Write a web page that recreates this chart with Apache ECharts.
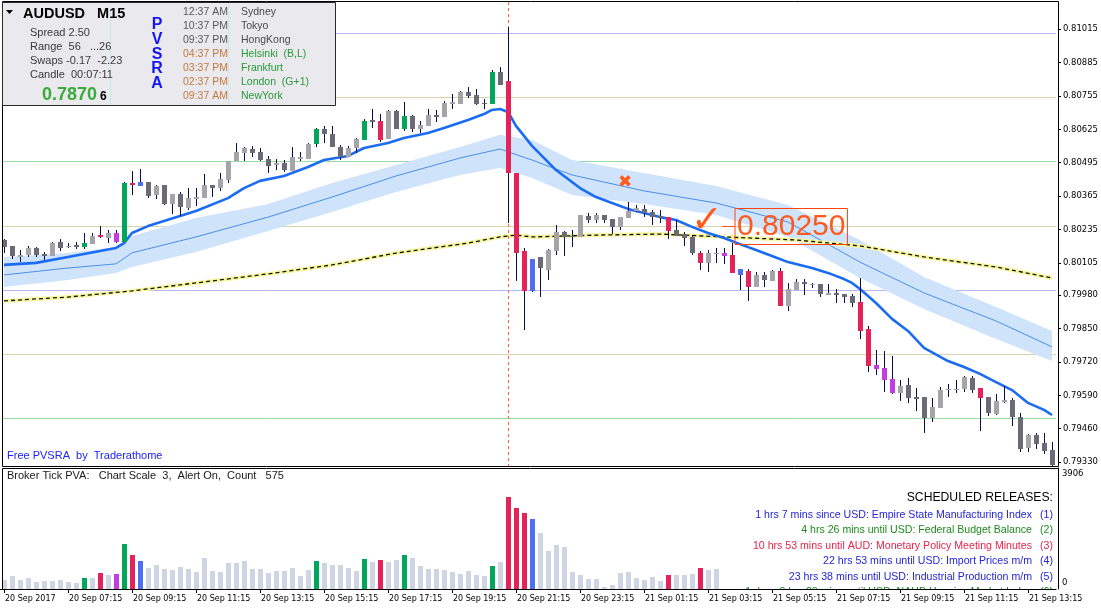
<!DOCTYPE html>
<html><head><meta charset="utf-8">
<script src="https://cdn.jsdelivr.net/npm/echarts@6/dist/echarts.min.js"></script>
<style>html,body{margin:0;padding:0;background:#fff;overflow:hidden}#c{width:1101px;height:611px}</style>
</head><body><div id="c"></div>
<script>
// ---------- DATA ----------
const xTickLabels = ['20 Sep 2017','20 Sep 07:15','20 Sep 09:15','20 Sep 11:15','20 Sep 13:15','20 Sep 15:15','20 Sep 17:15','20 Sep 19:15','20 Sep 21:15','20 Sep 23:15','21 Sep 01:15','21 Sep 03:15','21 Sep 05:15','21 Sep 07:15','21 Sep 09:15','21 Sep 11:15','21 Sep 13:15'];
const yTickValues = [0.81015,0.80885,0.80755,0.80625,0.80495,0.80365,0.80235,0.80105,0.79980,0.79850,0.79720,0.79590,0.79460,0.79330];
const volTickValues = [0, 3906];

const opens = [
0.80194,0.80171,0.80129,0.80136,0.80163,0.80140,0.80132,0.80185,0.80167,0.80173,
0.80168,0.80178,0.80213,0.80202,0.80220,0.80187,0.80417,0.80405,0.80420,0.80370,
0.80408,0.80334,0.80373,0.80319,0.80355,0.80357,0.80408,0.80395,0.80427,0.80500,
0.80534,0.80548,0.80536,0.80510,0.80485,0.80495,0.80464,0.80509,0.80509,0.80568,
0.80626,0.80606,0.80555,0.80518,0.80551,0.80583,0.80661,0.80657,0.80587,0.80697,
0.80626,0.80676,0.80626,0.80639,0.80680,0.80671,0.80723,0.80723,0.80769,0.80758,
0.80726,0.80723,0.80849,0.80813,0.80456,0.80151,0.79997,0.80127,0.80077,0.80152,
0.80225,0.80211,0.80207,0.80287,0.80272,0.80291,0.80276,0.80246,0.80281,0.80308,
0.80313,0.80303,0.80287,0.80285,0.80233,0.80216,0.80204,0.80145,0.80106,0.80142,
0.80145,0.80136,0.80058,0.80075,0.80012,0.80058,0.80036,0.80075,0.79937,0.79999,
0.80032,0.80022,0.80024,0.79981,0.79989,0.79984,0.79976,0.79954,0.79848,0.79708,
0.79697,0.79653,0.79600,0.79630,0.79584,0.79584,0.79500,0.79542,0.79612,0.79612,
0.79614,0.79658,0.79619,0.79584,0.79517,0.79564,0.79571,0.79507,0.79383,0.79435,
0.79405,0.79377];
const closes = [
0.80168,0.80132,0.80137,0.80163,0.80136,0.80132,0.80181,0.80164,0.80171,0.80168,
0.80181,0.80210,0.80206,0.80220,0.80187,0.80415,0.80409,0.80421,0.80365,0.80404,
0.80334,0.80373,0.80324,0.80357,0.80361,0.80408,0.80398,0.80431,0.80500,0.80536,
0.80552,0.80534,0.80505,0.80482,0.80495,0.80466,0.80517,0.80517,0.80568,0.80626,
0.80605,0.80555,0.80518,0.80551,0.80587,0.80657,0.80654,0.80583,0.80697,0.80626,
0.80676,0.80626,0.80643,0.80680,0.80673,0.80728,0.80730,0.80769,0.80756,0.80723,
0.80723,0.80849,0.80797,0.80456,0.80145,0.79996,0.80119,0.80086,0.80155,0.80225,
0.80207,0.80207,0.80291,0.80272,0.80291,0.80272,0.80246,0.80285,0.80307,0.80320,
0.80298,0.80285,0.80278,0.80230,0.80211,0.80203,0.80145,0.80103,0.80142,0.80145,
0.80133,0.80067,0.80080,0.80012,0.80058,0.80038,0.80075,0.79937,0.80002,0.80032,
0.80022,0.80024,0.79983,0.79989,0.79981,0.79974,0.79950,0.79841,0.79704,0.79692,
0.79649,0.79600,0.79627,0.79578,0.79577,0.79500,0.79546,0.79610,0.79614,0.79614,
0.79662,0.79610,0.79581,0.79522,0.79568,0.79571,0.79507,0.79381,0.79435,0.79400,
0.79374,0.79318];
const lows = [
0.80145,0.80119,0.80110,0.80129,0.80129,0.80116,0.80132,0.80153,0.80162,0.80158,
0.80158,0.80178,0.80200,0.80184,0.80184,0.80185,0.80369,0.80405,0.80356,0.80354,
0.80330,0.80295,0.80289,0.80311,0.80326,0.80357,0.80363,0.80386,0.80415,0.80500,
0.80500,0.80518,0.80503,0.80456,0.80466,0.80460,0.80464,0.80501,0.80508,0.80557,
0.80570,0.80555,0.80505,0.80516,0.80534,0.80583,0.80628,0.80577,0.80587,0.80626,
0.80618,0.80616,0.80612,0.80639,0.80654,0.80671,0.80704,0.80723,0.80745,0.80719,
0.80704,0.80723,0.80797,0.80259,0.80034,0.79844,0.79993,0.79973,0.80038,0.80136,
0.80132,0.80168,0.80207,0.80261,0.80261,0.80259,0.80217,0.80233,0.80281,0.80304,
0.80282,0.80252,0.80261,0.80197,0.80210,0.80171,0.80134,0.80077,0.80071,0.80103,
0.80101,0.80067,0.79999,0.79958,0.80010,0.80010,0.80034,0.79937,0.79919,0.79999,
0.79980,0.80006,0.79971,0.79981,0.79950,0.79948,0.79935,0.79808,0.79682,0.79669,
0.79604,0.79595,0.79569,0.79559,0.79530,0.79442,0.79487,0.79539,0.79582,0.79600,
0.79604,0.79600,0.79452,0.79509,0.79513,0.79561,0.79472,0.79368,0.79368,0.79380,
0.79361,0.79300];
const highs = [
0.80197,0.80171,0.80155,0.80171,0.80168,0.80149,0.80185,0.80198,0.80184,0.80188,
0.80220,0.80220,0.80249,0.80233,0.80233,0.80421,0.80464,0.80469,0.80420,0.80407,
0.80408,0.80373,0.80382,0.80396,0.80396,0.80451,0.80409,0.80456,0.80500,0.80570,
0.80555,0.80560,0.80552,0.80521,0.80508,0.80505,0.80556,0.80538,0.80571,0.80631,
0.80639,0.80636,0.80564,0.80561,0.80590,0.80665,0.80704,0.80686,0.80700,0.80700,
0.80732,0.80680,0.80657,0.80704,0.80699,0.80735,0.80762,0.80774,0.80789,0.80780,
0.80741,0.80857,0.80867,0.81023,0.80456,0.80162,0.80119,0.80127,0.80159,0.80252,
0.80230,0.80233,0.80291,0.80298,0.80300,0.80291,0.80276,0.80285,0.80341,0.80330,
0.80330,0.80311,0.80311,0.80285,0.80272,0.80226,0.80213,0.80152,0.80155,0.80164,
0.80164,0.80184,0.80080,0.80080,0.80071,0.80071,0.80077,0.80084,0.80025,0.80041,
0.80041,0.80025,0.80024,0.80023,0.80002,0.79984,0.79984,0.80045,0.79859,0.79766,
0.79762,0.79743,0.79649,0.79658,0.79617,0.79584,0.79578,0.79623,0.79634,0.79649,
0.79666,0.79665,0.79619,0.79584,0.79595,0.79627,0.79578,0.79520,0.79438,0.79442,
0.79444,0.79409];

// PVSRA vector candles (bar indices)
const climaxBull = [10,15,39,45,50,61];
const climaxBear = [12,16,47,63,64,65,83,87,91,93,97,107,108,122];
const risingBull = [17,66,92];
const risingBear = [14,90,109,110,111];

// Broker tick volume (drawn bars only)
const volumes = [
300,429,300,354,236,268,268,300,236,182,
365,365,526,461,494,1459,1105,912,687,783,
654,622,719,654,558,1009,590,558,848,848,
912,654,654,526,590,590,687,429,622,912,
848,783,783,687,590,976,880,944,880,944,
1105,1009,751,654,654,622,558,494,590,461,
429,751,880,2972,2618,2457,2256,1796,1238,1435,
1347,548,460,318,318,66,131,515,548,350,
285,383,252,449,449,449,482,679,613,646];

// Indicator lines, read at sample bars [bar, price]
const emaPoints = [[0,0.80097],[4,0.80105],[8,0.80128],[12,0.80151],[14,0.80163],[15,0.80182],[16,0.80221],[18,0.80248],[20,0.80268],[24,0.80307],[28,0.80357],[30,0.80396],[32,0.80424],[35,0.80443],[38,0.80478],[40,0.80505],[43,0.80521],[45,0.80552],[48,0.80571],[50,0.80591],[53,0.80610],[55,0.80630],[58,0.80661],[60,0.80684],[61,0.80700],[62,0.80704],[63,0.80692],[64,0.80638],[66,0.80560],[69,0.80466],[72,0.80396],[74,0.80361],[76,0.80338],[78,0.80315],[80,0.80299],[82,0.80283],[84,0.80272],[86,0.80245],[88,0.80221],[90,0.80202],[92,0.80178],[94,0.80155],[96,0.80132],[98,0.80108],[101,0.80085],[103,0.80066],[105,0.80042],[106,0.80027],[107,0.80003],[109,0.79949],[111,0.79887],[113,0.79840],[115,0.79774],[118,0.79723],[120,0.79700],[122,0.79673],[124,0.79641],[126,0.79610],[128,0.79560],[130,0.79533],[131,0.79513]];
const bandUpper = [[0,0.80128],[8,0.80143],[14,0.80167],[16,0.80210],[24,0.80280],[33,0.80334],[41,0.80416],[49,0.80486],[57,0.80556],[62,0.80603],[66,0.80583],[71,0.80505],[80,0.80455],[89,0.80404],[98,0.80330],[107,0.80194],[115,0.80050],[124,0.79933],[131,0.79840]];
const bandMiddle = [[0,0.80058],[8,0.80085],[14,0.80101],[16,0.80144],[24,0.80206],[33,0.80283],[41,0.80361],[49,0.80443],[57,0.80513],[62,0.80548],[66,0.80505],[71,0.80447],[80,0.80385],[89,0.80338],[98,0.80264],[107,0.80108],[115,0.79988],[124,0.79879],[131,0.79778]];
const bandLower = [[0,0.80011],[8,0.80038],[14,0.80066],[16,0.80089],[24,0.80147],[33,0.80229],[41,0.80303],[49,0.80381],[57,0.80447],[62,0.80474],[66,0.80435],[71,0.80369],[80,0.80334],[89,0.80291],[98,0.80206],[107,0.80046],[115,0.79925],[124,0.79809],[131,0.79723]];
const slowMaPoints = [[0,0.79957],[8,0.79972],[16,0.79996],[24,0.80027],[33,0.80062],[41,0.80097],[49,0.80143],[58,0.80182],[62,0.80206],[64,0.80213],[66,0.80206],[74,0.80213],[82,0.80217],[90,0.80206],[99,0.80194],[107,0.80171],[115,0.80128],[124,0.80089],[131,0.80046]];

// Horizontal price levels
const levelPrices = [0.8100,0.8075,0.8050,0.8025,0.8000,0.7975,0.7950];
const levelKinds  = ['00','25','50','25','00','25','50'];
const eventBar = 63;

// Annotations
const markBars   = [78, 88];
const markPrices = [0.80416, 0.80264];
const markGlyphs = ['\u2716', '\u2713'];
const priceLabelBar = 91;
const priceLabelValue = 0.80250;

// Info panel text
const sessionTimes  = ['12:37 AM','10:37 PM','09:37 PM','04:37 PM','03:37 PM','02:37 PM','09:37 AM'];
const sessionCities = ['Sydney','Tokyo','HongKong','Helsinki  (B,L)','Frankfurt','London  (G+1)','NewYork'];
const infoLines = ['Spread 2.50','Range  56   ...26','Swaps -0.17  -2.23','Candle  00:07:11'];
const releases = [
  ['1 hrs 7 mins since USD: Empire State Manufacturing Index','(1)','blue'],
  ['4 hrs 26 mins until USD: Federal Budget Balance','(2)','green'],
  ['10 hrs 53 mins until AUD: Monetary Policy Meeting Minutes','(3)','red'],
  ['22 hrs 53 mins until USD: Import Prices m/m','(4)','blue'],
  ['23 hrs 38 mins until USD: Industrial Production m/m','(5)','blue'],
  ['1 days 0 hrs 23 mins until USD: NAHB Housing Market Index','(6)','green']
];

// ---------- STYLE ----------
const FONT_UI = '"Liberation Sans", Arial, sans-serif';
const FONT_AX = '"DejaVu Sans Condensed", "DejaVu Sans", sans-serif';
const COL = {up:'#a4a4a9', down:'#6b6b77', wick:'#0b0b44', g:'#00a65c', r:'#e2245a', b:'#4c6ff6', m:'#c23de2', vol:'#ccd5e1'};
const LEVEL_COL = {'00':'#b6b6f2','25':'#dcd1ae','50':'#95dca5'};
const REL_COL = {blue:'#2424dc', green:'#1e8c1e', red:'#e8244c'};
const ORANGE = '#ff5a1e';

function pvsraColor(i) {
  if (climaxBull.includes(i)) return COL.g;
  if (climaxBear.includes(i)) return COL.r;
  if (risingBull.includes(i)) return COL.b;
  if (risingBear.includes(i)) return COL.m;
  return null;
}

// categories (15-minute bars from 20 Sep 2017 05:15)
const categories = [];
for (let k = 0; k < opens.length; k++) {
  const d = new Date(Date.UTC(2017, 8, 20, 5, 15) + k * 900000);
  const p = n => String(n).padStart(2, '0');
  categories.push(d.getUTCFullYear() + '.' + p(d.getUTCMonth()+1) + '.' + p(d.getUTCDate()) + ' ' + p(d.getUTCHours()) + ':' + p(d.getUTCMinutes()));
}

const chart = echarts.init(document.getElementById('c'), null, {renderer:'canvas'});

const candleSeries = {
  type:'custom', xAxisIndex:0, yAxisIndex:0, z:6, clip:true,
  data: opens.map((o,i)=>[i,o,closes[i],lows[i],highs[i]]),
  encode:{x:0, y:[1,2,3,4]},
  renderItem:(params, api)=>{
    const i=api.value(0), o=api.value(1), c=api.value(2), l=api.value(3), h=api.value(4);
    const pO=api.coord([i,o]), pC=api.coord([i,c]), pH=api.coord([i,h]), pL=api.coord([i,l]);
    const x=Math.round(pO[0]);
    const top=Math.round(Math.min(pO[1],pC[1])), bot=Math.round(Math.max(pO[1],pC[1]));
    const fill = pvsraColor(i) || (c>=o ? COL.up : COL.down);
    const yh=Math.round(pH[1]), yl=Math.round(pL[1]);
    return {type:'group', children:[
      {type:'rect', shape:{x:x, y:yh, width:1, height:Math.max(1,yl-yh)}, style:{fill:COL.wick}},
      {type:'rect', shape:{x:x-2, y:top, width:5, height:Math.max(1,bot-top)}, style:{fill:fill}}
    ]};
  }
};

const volumeSeries = {
  type:'custom', xAxisIndex:1, yAxisIndex:1, z:3, clip:true,
  data: volumes.map((v,i)=>[i,v]),
  encode:{x:0, y:1},
  renderItem:(params, api)=>{
    const i=api.value(0), v=api.value(1);
    const p=api.coord([i,v]), b=api.coord([i,0]);
    const x=Math.round(p[0]);
    const fill = pvsraColor(i) || COL.vol;
    return {type:'rect', shape:{x:x-2, y:Math.round(p[1]), width:5, height:Math.round(b[1])-Math.round(p[1])}, style:{fill:fill}};
  }
};

const levelSeries = {
  type:'custom', xAxisIndex:0, yAxisIndex:0, z:1, silent:true,
  data: levelPrices.map(p=>[0,p]),
  encode:{x:0,y:1},
  renderItem:(params, api)=>{
    const cs=params.coordSys;
    const y=Math.round(api.coord([0,api.value(1)])[1])+0.5;
    return {type:'line', shape:{x1:cs.x+2, y1:y, x2:cs.x+cs.width, y2:y}, style:{stroke:LEVEL_COL[levelKinds[params.dataIndex]], lineWidth:1}};
  }
};

const eventLineSeries = {
  type:'custom', xAxisIndex:0, yAxisIndex:0, z:4, silent:true,
  data:[[eventBar, yTickValues[0]]],
  encode:{x:0,y:1},
  renderItem:(params, api)=>{
    const cs=params.coordSys;
    const x=Math.round(api.coord([api.value(0),api.value(1)])[0])+0.5;
    return {type:'line', shape:{x1:x, y1:cs.y, x2:x, y2:cs.y+cs.height}, style:{stroke:'#f26a34', lineWidth:1, lineDash:[3,3]}};
  }
};

const bandSeries = {
  type:'custom', xAxisIndex:0, yAxisIndex:0, z:2, silent:true,
  data:[[bandUpper[0][0], bandUpper[0][1]]],
  encode:{x:0,y:1},
  renderItem:(params, api)=>{
    const pts=[];
    bandUpper.forEach(p=>pts.push(api.coord(p)));
    bandLower.slice().reverse().forEach(p=>pts.push(api.coord(p)));
    return {type:'polygon', shape:{points:pts}, style:{fill:'#cfe4fb'}};
  }
};

const annotationSeries = {
  type:'custom', xAxisIndex:0, yAxisIndex:0, z:8, silent:true,
  data: markBars.map((b,k)=>[b, markPrices[k]]),
  encode:{x:0,y:1},
  renderItem:(params, api)=>{
    const p=api.coord([api.value(0), api.value(1)]);
    const k=params.dataIndex;
    const big = k===1;
    return {type:'text', x:p[0]-(big?1:3), y:p[1], style:{text:markGlyphs[k], fill:ORANGE, font:(big?'bold 38px ':'bold 17px ')+'"DejaVu Sans", sans-serif', align:'center', verticalAlign:'middle'}};
  }
};

const priceLabelSeries = {
  type:'custom', xAxisIndex:0, yAxisIndex:0, z:8, silent:true,
  data:[[priceLabelBar, priceLabelValue]],
  encode:{x:0,y:1},
  renderItem:(params, api)=>{
    const p=api.coord([api.value(0), api.value(1)]);
    const y=Math.round(p[1])+0.5;
    return {type:'group', children:[
      {type:'line', shape:{x1:p[0]-10, y1:y, x2:p[0]+3, y2:y}, style:{stroke:ORANGE, lineWidth:1}},
      {type:'text', x:p[0]+3, y:y, style:{text:priceLabelValue.toFixed(5), fill:ORANGE, font:'30px "Liberation Sans", Arial, sans-serif', align:'left', verticalAlign:'middle', borderColor:'#ff4512', borderWidth:1, padding:[3,2,2,2], lineHeight:31}}
    ]};
  }
};

const lineBase = {type:'line', xAxisIndex:0, yAxisIndex:0, showSymbol:false, symbol:'none', silent:true, smooth:false, animation:false};

const option = {
  animation:false,
  backgroundColor:'#ffffff',
  grid:[
    {left:0, top:2, width:1056, height:464, containLabel:false, outerBoundsMode:'none'},
    {left:0, top:468, width:1056, height:121, containLabel:false, outerBoundsMode:'none'}
  ],
  xAxis:[
    {type:'category', gridIndex:0, data:categories, boundaryGap:true, show:false},
    {type:'category', gridIndex:1, data:categories, boundaryGap:true, z:20,
     axisLine:{show:true, lineStyle:{color:'#000', width:1}},
     axisTick:{show:true, alignWithLabel:true, interval:(idx)=>idx%8===0, length:4, lineStyle:{color:'#000'}},
     axisLabel:{show:true, interval:(idx)=>idx%8===0, formatter:(v,idx)=>xTickLabels[idx/8], align:'left', margin:5, padding:[0,0,0,1], fontSize:8.9, fontFamily:FONT_AX, color:'#000'},
     splitLine:{show:false}}
  ],
  yAxis:[
    {type:'value', gridIndex:0, position:'right', min:0.793146, max:0.811200, offset:2,
     axisLine:{show:true, lineStyle:{color:'#000', width:1}},
     axisTick:{show:true, length:3, customValues:yTickValues, lineStyle:{color:'#000'}},
     axisLabel:{show:true, customValues:yTickValues, formatter:v=>v.toFixed(5), margin:5, fontSize:9.4, fontFamily:FONT_AX, color:'#000'},
     splitLine:{show:false}},
    {type:'value', gridIndex:1, position:'right', min:0, max:3906, offset:2,
     axisLine:{show:true, lineStyle:{color:'#000', width:1}},
     axisTick:{show:false},
     axisLabel:{show:true, customValues:volTickValues, margin:4, fontFamily:FONT_AX, color:'#000',
       formatter:v=> v>0 ? '{s| }\n{a|'+v+'}' : '{a|'+v+'}\n{s| }',
       rich:{a:{fontSize:9.4, lineHeight:12, fontFamily:FONT_AX, color:'#000'}, s:{fontSize:8, lineHeight:12}}},
     splitLine:{show:false}}
  ],
  series:[
    levelSeries,
    bandSeries,
    Object.assign({}, lineBase, {z:3, data:bandMiddle, lineStyle:{color:'#4a8fe6', width:1}}),
    Object.assign({}, lineBase, {z:3, data:slowMaPoints, lineStyle:{color:'#f7f7a2', width:4}}),
    Object.assign({}, lineBase, {z:4, data:slowMaPoints, lineStyle:{color:'#111111', width:1.3, type:[4,3]}}),
    eventLineSeries,
    Object.assign({}, lineBase, {z:5, data:emaPoints, lineStyle:{color:'#1b6cf2', width:2.6}}),
    candleSeries,
    annotationSeries,
    priceLabelSeries,
    volumeSeries
  ],
  graphic:[]
};

// ---- panel borders and texts ----
const G = option.graphic;
G.push({type:'line', z:30, shape:{x1:2.5,y1:1.5,x2:2.5,y2:466.5}, style:{stroke:'#000', lineWidth:1}});
G.push({type:'line', z:30, shape:{x1:2.5,y1:1.5,x2:1058.5,y2:1.5}, style:{stroke:'#000', lineWidth:1}});
G.push({type:'line', z:30, shape:{x1:2.5,y1:466.5,x2:1058.5,y2:466.5}, style:{stroke:'#000', lineWidth:1}});
G.push({type:'line', z:30, shape:{x1:2.5,y1:468.5,x2:1058.5,y2:468.5}, style:{stroke:'#000', lineWidth:1}});
G.push({type:'line', z:30, shape:{x1:2.5,y1:468.5,x2:2.5,y2:589.5}, style:{stroke:'#000', lineWidth:1}});

// info panel
G.push({type:'rect', z:40, shape:{x:2.5,y:2.5,width:333,height:103}, style:{fill:'#e9e9ee', stroke:'#2a2a2a', lineWidth:1}});
G.push({type:'line', z:41, shape:{x1:110.5,y1:3,x2:110.5,y2:105}, style:{stroke:'#c4ecec', lineWidth:1}});
G.push({type:'line', z:41, shape:{x1:228.5,y1:3,x2:228.5,y2:105}, style:{stroke:'#c4ecec', lineWidth:1}});
G.push({type:'polygon', z:42, shape:{points:[[6,10],[13,10],[9.5,14]]}, style:{fill:'#000'}});
G.push({type:'text', z:42, x:23, y:14, style:{text:'AUDUSD   M15', font:'bold 14.5px '+FONT_UI, fill:'#000', verticalAlign:'middle'}});
infoLines.forEach((t,k)=>G.push({type:'text', z:42, x:30, y:33+14*k, style:{text:t, font:'11px '+FONT_UI, fill:'#3a3a3a', verticalAlign:'middle'}}));
G.push({type:'text', z:42, x:42, y:95, style:{text:'0.7870', font:'bold 18px '+FONT_UI, fill:'#3aaa38', verticalAlign:'middle'}});
G.push({type:'text', z:42, x:100, y:97, style:{text:'6', font:'bold 12px '+FONT_UI, fill:'#000', verticalAlign:'middle'}});
['P','V','S','R','A'].forEach((t,k)=>G.push({type:'text', z:42, x:157, y:25+14.6*k, style:{text:t, font:'bold 16px '+FONT_UI, fill:'#1414f5', align:'center', verticalAlign:'middle'}}));
sessionTimes.forEach((t,k)=>G.push({type:'text', z:42, x:183, y:12.5+13.9*k, style:{text:t, font:'10.5px '+FONT_UI, fill:k<3?'#5a5a5a':'#c57a40', verticalAlign:'middle'}}));
sessionCities.forEach((t,k)=>G.push({type:'text', z:42, x:241, y:12.5+13.9*k, style:{text:t, font:'10.5px '+FONT_UI, fill:k<3?'#4a4a4a':'#2a9a3a', verticalAlign:'middle'}}));

// chart captions
G.push({type:'text', z:42, x:7, y:456, style:{text:'Free PVSRA  by  Traderathome', font:'11px '+FONT_UI, fill:'#1e22ff', verticalAlign:'middle'}});
G.push({type:'text', z:42, x:7, y:476, style:{text:'Broker Tick PVA:   Chart Scale  3,  Alert On,  Count   575', font:'11px '+FONT_UI, fill:'#1a1a1a', verticalAlign:'middle'}});

// scheduled releases
G.push({type:'text', z:12, x:1053, y:498, style:{text:'SCHEDULED RELEASES:', font:'12.2px '+FONT_UI, fill:'#000', align:'right', verticalAlign:'middle'}});
releases.forEach((r,k)=>{
  const y = 515 + 15.4*k;
  G.push({type:'text', z:12, x:1032, y:y, style:{text:r[0], font:'10.6px '+FONT_UI, fill:REL_COL[r[2]], align:'right', verticalAlign:'middle'}});
  G.push({type:'text', z:12, x:1053, y:y, style:{text:r[1], font:'10.6px '+FONT_UI, fill:REL_COL[r[2]], align:'right', verticalAlign:'middle'}});
});
// white strip under lower panel (hides overflow of last release line); axis labels sit above it
G.push({type:'rect', z:13, shape:{x:3, y:590, width:1055, height:21}, style:{fill:'#fff'}});

chart.setOption(option);
</script>
</body></html>
